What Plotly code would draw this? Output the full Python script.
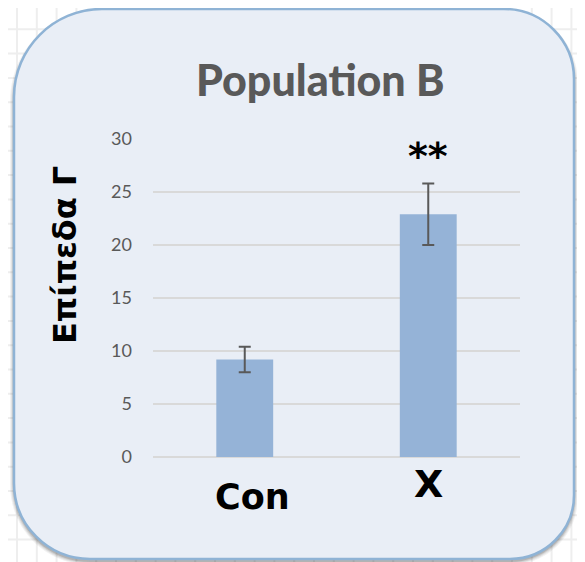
import plotly.graph_objects as go

# ---- data ----
categories = ["Con", "X"]
values = [9.2, 22.9]
errors = [1.2, 2.9]
significance = ["", "**"]
y_ticks = [0, 5, 10, 15, 20, 25, 30]
title_text = "Population B"
y_title = "Επίπεδα Γ"

# ---- geometry (pixels, in screenshot coordinates) ----
OFF = 8  # page body margin
W, H = 585, 562
L, R, T, B = 153, 520, 139, 457
FIG_W = W - 2 * OFF
FIG_H = H - OFF


def px(x):
    return (x - L) / (R - L)


def py(y):
    return (B - y) / (B - T)


def P(x, y):
    return f"{px(x):.5f},{py(y):.5f}"


def rounded_path(x0, y0, x1, y1, rtl, rtr, rbr, rbl):
    k = 0.5523
    d = f"M {P(x0 + rtl, y0)} L {P(x1 - rtr, y0)} "
    d += f"C {P(x1 - rtr + k * rtr, y0)} {P(x1, y0 + rtr - k * rtr)} {P(x1, y0 + rtr)} "
    d += f"L {P(x1, y1 - rbr)} C {P(x1, y1 - rbr + k * rbr)} {P(x1 - rbr + k * rbr, y1)} {P(x1 - rbr, y1)} "
    d += f"L {P(x0 + rbl, y1)} C {P(x0 + rbl - k * rbl, y1)} {P(x0, y1 - rbl + k * rbl)} {P(x0, y1 - rbl)} "
    d += f"L {P(x0, y0 + rtl)} C {P(x0, y0 + rtl - k * rtl)} {P(x0 + rtl - k * rtl, y0)} {P(x0 + rtl, y0)} Z"
    return d


shapes = []

# background graph-paper grid
grid = ""
x = 17.0
while x < W:
    grid += f"M {P(x, 0)} L {P(x, H)} "
    x += 19.8
y = 5.0
while y < H:
    grid += f"M {P(0, y)} L {P(W, y)} "
    y += 24.3
shapes.append(dict(type="path", xref="paper", yref="paper", path=grid,
                   line=dict(color="#EEEEEE", width=2), layer="below"))

# panel shadow
px0, py0, px1, py1 = 14, 9, 574, 559
radii = (88, 70, 64, 76)
for e, op in [(4, 0.05), (3, 0.06), (2, 0.09), (1, 0.13)]:
    shapes.append(dict(type="path", xref="paper", yref="paper",
                       path=rounded_path(px0 - e, py0 - e + 4, px1 + e, py1 + e + 2,
                                         *[r + e for r in radii]),
                       fillcolor=f"rgba(0,0,0,{op})", line=dict(width=0), layer="below"))

# panel
shapes.append(dict(type="path", xref="paper", yref="paper",
                   path=rounded_path(px0, py0, px1, py1, *radii),
                   fillcolor="#E9EEF6", line=dict(color="#8FB3D5", width=2.5), layer="below"))

fig = go.Figure()
fig.add_trace(go.Bar(
    x=categories, y=values, width=0.31,
    marker=dict(color="#95B3D7", line=dict(width=0)),
    error_y=dict(type="data", array=errors, color="#595959", thickness=2, width=6),
    hoverinfo="skip",
))

annotations = [
    dict(text=title_text, xref="paper", yref="paper", x=px(320), y=py(79),
         showarrow=False, font=dict(family="Lato", size=43, color="#595959", weight=900),
         xanchor="center", yanchor="middle"),
    dict(text=f"<b>{y_title}</b>", xref="paper", yref="paper", x=px(65), y=py(255),
         showarrow=False, textangle=-90, font=dict(family="DejaVu Sans", size=32, color="#000000"),
         xanchor="center", yanchor="middle"),
]
label_y = {"Con": 497, "X": 484}
label_size = {"Con": 35, "X": 38}
label_shift = {"Con": 8, "X": 0}
for c in categories:
    annotations.append(dict(text=f"<b>{c}</b>", xref="x", yref="paper", x=c, y=py(label_y[c]),
                            showarrow=False, xshift=label_shift[c],
                            font=dict(family="DejaVu Sans", size=label_size[c], color="#000000"),
                            xanchor="center", yanchor="middle"))
for c, v, e, s in zip(categories, values, errors, significance):
    if s:
        annotations.append(dict(text=f"<b>{s}</b>", xref="x", yref="y", x=c, y=v + e + 2.6,
                                showarrow=False,
                                font=dict(family="DejaVu Sans", size=38, color="#000000"),
                                xanchor="center", yanchor="middle"))

fig.update_layout(
    width=FIG_W, height=FIG_H, autosize=False,
    margin=dict(l=L - OFF, r=FIG_W - (R - OFF), t=T - OFF, b=FIG_H - (B - OFF), pad=0),
    paper_bgcolor="#FFFFFF", plot_bgcolor="rgba(0,0,0,0)",
    showlegend=False,
    shapes=shapes,
    annotations=annotations,
    xaxis=dict(showticklabels=False, showgrid=False, zeroline=False, showline=False,
               ticks="", fixedrange=True),
    yaxis=dict(range=[0, 30], tickvals=y_ticks, showgrid=True, gridcolor="#D9D9D9",
               gridwidth=1.5, zeroline=True, zerolinecolor="#D9D9D9", zerolinewidth=1.5,
               showline=False, ticks="", ticklabelstandoff=20,
               tickfont=dict(family="Lato", size=18, color="#595959"), fixedrange=True),
)

fig.write_html("out.html")
